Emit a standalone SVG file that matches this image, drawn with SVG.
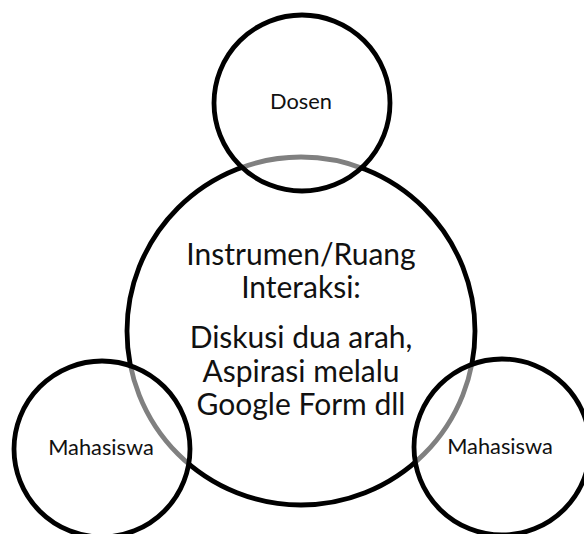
<svg xmlns="http://www.w3.org/2000/svg" width="584" height="534" viewBox="0 0 584 534">
<style>
.big{fill:#ffffff;stroke:#000000;stroke-width:4.8}
.small{fill:#ffffff;fill-opacity:0.5;stroke:#000000;stroke-width:4.8}
.t{font-family:Lato,"Open Sans","Liberation Sans",sans-serif;fill:#111111;text-anchor:middle}
.ts{font-size:21.8px}
.tb{font-size:30px}
</style>
<rect width="584" height="534" fill="#ffffff"/>
<g id="center">
<circle class="big" cx="301" cy="331" r="174"/>
<text class="t tb" x="301" y="265">Instrumen/Ruang</text>
<text class="t tb" x="301" y="298">Interaksi:</text>
<text class="t tb" x="301" y="348">Diskusi dua arah,</text>
<text class="t tb" x="301" y="382">Aspirasi melalu</text>
<text class="t tb" x="301" y="415">Google Form dll</text>
</g>
<g id="dosen">
<circle class="small" cx="302" cy="103" r="88"/>
<text class="t ts" x="301" y="109">Dosen</text>
</g>
<g id="mahasiswa-left">
<circle class="small" cx="102" cy="449" r="88"/>
<text class="t ts" x="101" y="455">Mahasiswa</text>
</g>
<g id="mahasiswa-right">
<circle class="small" cx="502" cy="447" r="88"/>
<text class="t ts" x="500" y="454">Mahasiswa</text>
</g>
<g id="connectors"/>
</svg>
